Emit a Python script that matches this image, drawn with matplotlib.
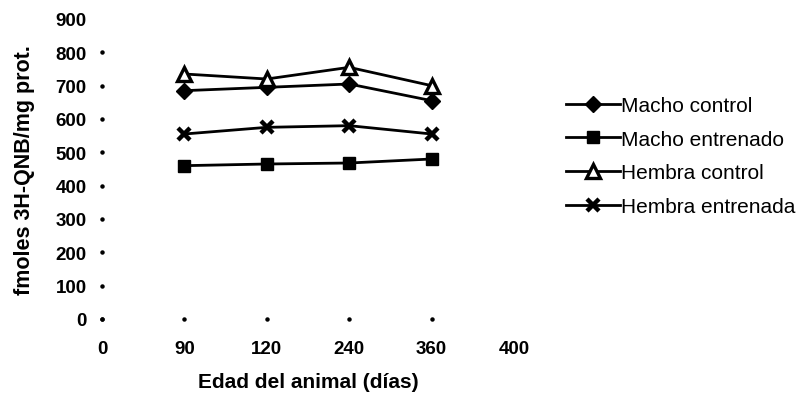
import matplotlib
matplotlib.use("Agg")
import matplotlib.pyplot as plt

plt.rcParams['font.family'] = ['Liberation Sans', 'DejaVu Sans']

# Age categories (days) shown on the x axis
categories = ["0", "90", "120", "240", "360", "400"]
data_ages = ["90", "120", "240", "360"]

# fmoles 3H-QNB / mg protein
macho_control = [685, 695, 705, 655]
macho_entrenado = [460, 465, 468, 480]
hembra_control = [735, 720, 755, 700]
hembra_entrenada = [555, 575, 580, 555]

y_ticks = list(range(0, 1000, 100))

fig = plt.figure(figsize=(8.0, 4.02), dpi=100)
ax = fig.add_axes([102 / 800, 82 / 402, 412 / 800, 300 / 402])

xpos = [categories.index(a) for a in data_ages]

line_kw = dict(color="black", lw=2.0, clip_on=False)
ax.plot(xpos, macho_control, marker="D", ms=8, mfc="black", mec="black",
        label="Macho control", **line_kw)
ax.plot(xpos, macho_entrenado, marker="s", ms=8.5, mfc="black", mec="black",
        label="Macho entrenado", **line_kw)
ax.plot(xpos, hembra_control, marker="^", ms=9.5, mfc="white", mec="black",
        mew=2.4, label="Hembra control", **line_kw)
ax.plot(xpos, hembra_entrenada, marker="x", ms=9, mec="black", mew=3.2,
        label="Hembra entrenada", **line_kw)

ax.set_xlim(0, len(categories) - 1)
ax.set_ylim(0, 900)
ax.set_xticks(range(len(categories)))
ax.set_xticklabels(categories)
ax.set_yticks(y_ticks)

for s in ax.spines.values():
    s.set_visible(False)
ax.tick_params(axis="both", length=0, labelsize=13.5)
ax.tick_params(axis="y", pad=11)
ax.tick_params(axis="x", pad=15)
for lab in ax.get_xticklabels() + ax.get_yticklabels():
    lab.set_fontweight("bold")

# small dot tick marks along both axes
ax.plot([0] * (len(y_ticks) - 1), y_ticks[:-1], ls="none", marker="o",
        ms=2.2, color="black", clip_on=False)
ax.plot(range(len(categories) - 1), [0] * (len(categories) - 1), ls="none",
        marker="o", ms=2.2, color="black", clip_on=False)

ax.set_xlabel("Edad del animal (días)", fontsize=15, fontweight="bold",
              labelpad=11)
ax.set_ylabel("fmoles 3H-QNB/mg prot.", fontsize=15.5, fontweight="bold",
              labelpad=15)

fig.legend(loc="center left", bbox_to_anchor=(551 / 800, 1 - 157 / 402),
           frameon=False, fontsize=15, handlelength=2.6, handletextpad=0.05,
           labelspacing=0.7, borderpad=0.2)

fig.savefig("out.png", dpi=100)
